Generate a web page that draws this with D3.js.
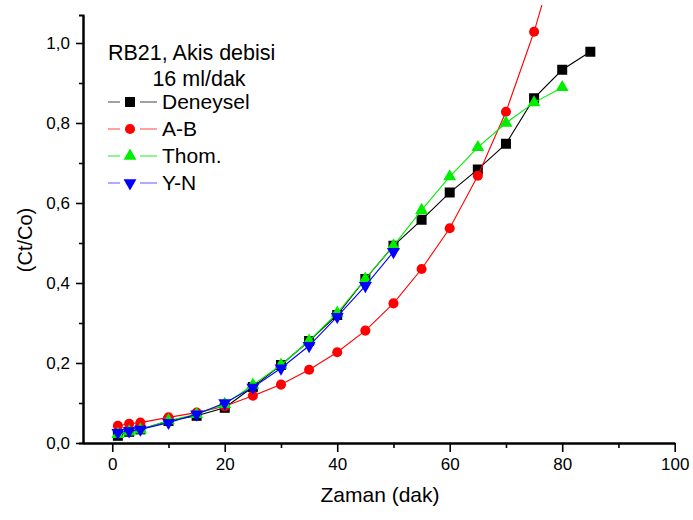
<!DOCTYPE html>
<html>
<head>
<meta charset="utf-8">
<script src="https://cdn.jsdelivr.net/npm/d3@7"></script>
<style>
  body { margin: 0; background: #fff; }
  text { font-family: "Liberation Sans", Arial, sans-serif; fill: #000; }
</style>
</head>
<body>
<div id="chart"></div>
<script>
// time points (dak)
var timeDeneysel = [1, 3, 5, 10, 15, 20, 25, 30, 35, 40, 45, 50, 55, 60, 65, 70, 75, 80, 85];
var timeAB = [1, 3, 5, 10, 15, 20, 25, 30, 35, 40, 45, 50, 55, 60, 65, 70, 75, 80];
var timeThom = [1, 3, 5, 10, 15, 20, 25, 30, 35, 40, 45, 50, 55, 60, 65, 70, 75, 80];
var timeYN = [1, 3, 5, 10, 15, 20, 25, 30, 35, 40, 45, 50];

// Ct/Co values
var valDeneysel = [0.018, 0.028, 0.034, 0.055, 0.068, 0.088, 0.140, 0.195, 0.255, 0.320, 0.410, 0.493, 0.558, 0.626, 0.684, 0.748, 0.862, 0.933, 0.978];
var valAB = [0.043, 0.048, 0.051, 0.064, 0.076, 0.092, 0.118, 0.146, 0.183, 0.227, 0.281, 0.349, 0.435, 0.537, 0.668, 0.828, 1.028, 1.27];
var valThom = [0.022, 0.028, 0.033, 0.056, 0.072, 0.097, 0.145, 0.195, 0.255, 0.325, 0.410, 0.493, 0.582, 0.666, 0.739, 0.800, 0.851, 0.889];
var valYN = [0.026, 0.030, 0.034, 0.051, 0.072, 0.100, 0.139, 0.187, 0.243, 0.316, 0.393, 0.478];

var xTicks = [0, 20, 40, 60, 80, 100];
var yTicks = [0, 0.2, 0.4, 0.6, 0.8, 1.0];

var series = [
    {name: "Deneysel", t: timeDeneysel, v: valDeneysel, color: "#000000", symbol: d3.symbolSquare, size: 100, legendLine: "#555555"},
    {name: "A-B", t: timeAB, v: valAB, color: "#ff0000", symbol: d3.symbolCircle, size: 80, legendLine: "#ff5555"},
    {name: "Thom.", t: timeThom, v: valThom, color: "#00ee00", symbol: d3.symbolTriangle, size: 72, legendLine: "#33ee33"},
    {name: "Y-N", t: timeYN, v: valYN, color: "#0000ff", symbol: "down", size: 72, legendLine: "#6666ff"}
];

var width = 693, height = 520;

var svg = d3.select("#chart").append("svg")
    .attr("width", width)
    .attr("height", height);

var x = d3.scaleLinear().domain([-5.2, 100]).range([83, 674.7]);
var y = d3.scaleLinear().domain([0, 1.07]).range([443, 15]);

// clip region (data may run slightly above the axis end)
svg.append("clipPath").attr("id", "clip")
    .append("rect")
    .attr("x", x(-5.2))
    .attr("y", y(1.095))
    .attr("width", x(100) - x(-5.2))
    .attr("height", y(0) - y(1.095));

function symbolPath(s) {
    if (s.symbol === "down") {
        return d3.symbol().type(d3.symbolTriangle).size(s.size)();
    }
    return d3.symbol().type(s.symbol).size(s.size)();
}

var line = d3.line()
    .x(function(d) { return x(d[0]); })
    .y(function(d) { return y(d[1]); });

var plot = svg.append("g").attr("clip-path", "url(#clip)");

series.forEach(function(s) {
    var pts = s.t.map(function(t, i) { return [t, s.v[i]]; });
    plot.append("path")
        .datum(pts)
        .attr("d", line)
        .attr("fill", "none")
        .attr("stroke", s.color)
        .attr("stroke-width", 1.1);
    plot.selectAll(null)
        .data(pts)
        .enter().append("path")
        .attr("d", symbolPath(s))
        .attr("transform", function(d) {
            return "translate(" + x(d[0]) + "," + y(d[1]) + ")" + (s.symbol === "down" ? " rotate(180)" : "");
        })
        .attr("fill", s.color);
});

// axes
var fmt = function(d) { return d3.format(".1f")(d).replace(".", ","); };

var xMinor = svg.append("g")
    .attr("transform", "translate(0," + y(0) + ")")
    .call(d3.axisBottom(x).tickValues(d3.range(10, 100, 20)).tickSize(5).tickSizeOuter(0).tickFormat(""));
var xAxis = svg.append("g")
    .attr("transform", "translate(0," + y(0) + ")")
    .call(d3.axisBottom(x).tickValues(xTicks).tickSize(9).tickSizeOuter(0).tickPadding(6));

var yMinor = svg.append("g")
    .attr("transform", "translate(" + x(-5.2) + ",0)")
    .call(d3.axisLeft(y).tickValues([0.1, 0.3, 0.5, 0.7, 0.9]).tickSize(4).tickSizeOuter(0).tickFormat(""));
var yAxis = svg.append("g")
    .attr("transform", "translate(" + x(-5.2) + ",0)")
    .call(d3.axisLeft(y).tickValues(yTicks).tickSize(7).tickSizeOuter(4).tickPadding(6).tickFormat(fmt));

[xMinor, xAxis, yMinor, yAxis].forEach(function(g) {
    g.selectAll(".domain").attr("stroke", "#000").attr("stroke-width", 2);
    g.selectAll(".tick line").attr("stroke", "#000").attr("stroke-width", 1.6);
    g.selectAll(".tick text").style("font-size", "17px").style("font-family", "'Liberation Sans', Arial, sans-serif");
});

// axis titles
svg.append("text")
    .attr("x", 380)
    .attr("y", 502)
    .attr("text-anchor", "middle")
    .style("font-size", "21px")
    .text("Zaman (dak)");

svg.append("text")
    .attr("transform", "translate(32,240) rotate(-90)")
    .attr("text-anchor", "middle")
    .style("font-size", "20px")
    .text("(Ct/Co)");

// legend
var legend = svg.append("g");
legend.append("text").attr("x", 108).attr("y", 60).style("font-size", "21.5px").text("RB21, Akis debisi");
legend.append("text").attr("x", 199).attr("y", 86).attr("text-anchor", "middle").style("font-size", "21.5px").text("16 ml/dak");

var rowY = [102, 129, 156, 183];
series.forEach(function(s, i) {
    var g = legend.append("g").attr("transform", "translate(0," + rowY[i] + ")");
    g.append("line").attr("x1", 108).attr("x2", 120).attr("stroke", s.legendLine).attr("stroke-width", 1.1);
    g.append("line").attr("x1", 140).attr("x2", 157).attr("stroke", s.legendLine).attr("stroke-width", 1.1);
    g.append("path")
        .attr("d", symbolPath(s))
        .attr("transform", "translate(130,0)" + (s.symbol === "down" ? " rotate(180)" : ""))
        .attr("fill", s.color);
    g.append("text").attr("x", 162).attr("y", 7).style("font-size", "21px").text(s.name);
});
</script>
</body>
</html>
